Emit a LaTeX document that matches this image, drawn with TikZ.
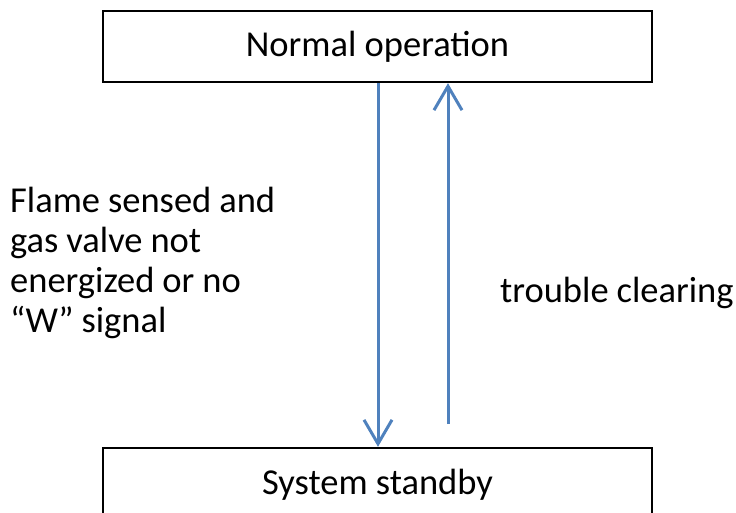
\documentclass[tikz,border=0pt]{standalone}
\usepackage{fontspec}
\setmainfont{Carlito}
\usetikzlibrary{arrows.meta}
\definecolor{flowblue}{RGB}{79,129,189}
\newcommand\setwordgap{\spaceskip=8pt\relax}
\tikzset{
  statebox/.style={draw=black, line width=2.4pt, inner sep=0pt, minimum width=549pt,
    font=\fontsize{36.5}{40}\selectfont},
  flow/.style={draw=flowblue, line width=3pt,
    -{Straight Barb[length=24pt,width=28pt,line width=3pt]}},
  caption/.style={inner sep=0pt, font=\fontsize{36.5}{40}\selectfont,
    execute at begin node=\setwordgap}
}
\begin{document}
\begin{tikzpicture}[x=1pt,y=-1pt]
  \useasboundingbox (0,0) rectangle (736,512);
  % the two states
  \node[statebox, text height=45.7pt, text depth=25.3pt, anchor=base] (normal) at (377.5,56.7) {Normal operation};
  \node[statebox, text height=46pt, text depth=32pt, anchor=base] (standby) at (377.5,494) {System standby};
  % transitions
  \draw[flow] (normal.south -| 378,0) -- (standby.north -| 378,0);
  \coordinate (uptail) at (448,424);
  \draw[flow] (uptail) -- (normal.south -| uptail);
  % transition labels
  \node[caption, text width=300pt, align=left, anchor=base west] (fault) at (10,212)
    {Flame sensed and\\gas valve not\\energized or no\\“W” signal};
  \node[caption, anchor=base west] (clear) at (500,302) {trouble clearing};
\end{tikzpicture}
\end{document}
